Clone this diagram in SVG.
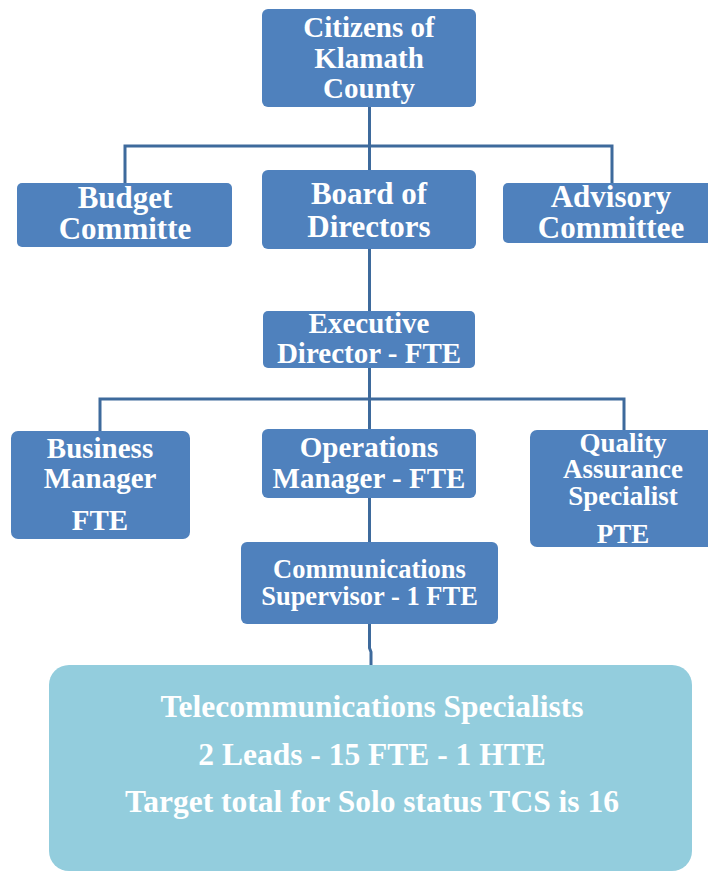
<svg xmlns="http://www.w3.org/2000/svg" width="708" height="871" viewBox="0 0 708 871">
  <style>
    .box { fill: #4f81bd; }
    .team { fill: #93cddd; }
    .lbl { font-family: "Liberation Serif", "Times New Roman", serif; font-weight: bold; fill: #ffffff; text-anchor: middle; }
    .conn { fill: none; stroke: #3e6a9c; stroke-width: 3; }
  </style>
  <rect width="708" height="871" fill="#ffffff"/>

  <g id="connectors">
    <path class="conn" d="M369.5 107 V170"/>
    <path class="conn" d="M125 183 V146 H612 V183"/>
    <path class="conn" d="M369.5 249 V311"/>
    <path class="conn" d="M369.5 368 V429"/>
    <path class="conn" d="M100 431 V399 H624 V430"/>
    <path class="conn" d="M369.5 498 V542"/>
    <path class="conn" d="M369.5 624 V648 L371 652 V665"/>
  </g>

  <g id="citizens">
    <rect class="box" x="262" y="9" width="214" height="98" rx="6"/>
    <text class="lbl" font-size="29" x="369" y="37">Citizens of</text>
    <text class="lbl" font-size="29" x="369" y="68">Klamath</text>
    <text class="lbl" font-size="29" x="369" y="98">County</text>
  </g>

  <g id="budget">
    <rect class="box" x="17" y="183" width="215" height="64" rx="5"/>
    <text class="lbl" font-size="31" x="125" y="208">Budget</text>
    <text class="lbl" font-size="31" x="125" y="239">Committe</text>
  </g>

  <g id="board">
    <rect class="box" x="262" y="170" width="214" height="79" rx="6"/>
    <text class="lbl" font-size="31" x="369" y="204">Board of</text>
    <text class="lbl" font-size="31" x="369" y="237">Directors</text>
  </g>

  <g id="advisory">
    <rect class="box" x="503" y="183" width="210" height="60" rx="5"/>
    <text class="lbl" font-size="31" x="611" y="207">Advisory</text>
    <text class="lbl" font-size="31" x="611" y="238">Committee</text>
  </g>

  <g id="executive">
    <rect class="box" x="263" y="311" width="212" height="57" rx="5"/>
    <text class="lbl" font-size="29" x="369" y="333">Executive</text>
    <text class="lbl" font-size="29" x="369" y="363">Director - FTE</text>
  </g>

  <g id="business">
    <rect class="box" x="11" y="431" width="179" height="108" rx="7"/>
    <text class="lbl" font-size="29" x="100" y="458">Business</text>
    <text class="lbl" font-size="29" x="100" y="488">Manager</text>
    <text class="lbl" font-size="29" x="100" y="530">FTE</text>
  </g>

  <g id="operations">
    <rect class="box" x="262" y="429" width="214" height="69" rx="6"/>
    <text class="lbl" font-size="29" x="369" y="457">Operations</text>
    <text class="lbl" font-size="29" x="369" y="488">Manager - FTE</text>
  </g>

  <g id="quality">
    <rect class="box" x="530" y="430" width="185" height="117" rx="7"/>
    <text class="lbl" font-size="27" x="623" y="452">Quality</text>
    <text class="lbl" font-size="27" x="623" y="478">Assurance</text>
    <text class="lbl" font-size="27" x="623" y="505">Specialist</text>
    <text class="lbl" font-size="27" x="623" y="543">PTE</text>
  </g>

  <g id="communications">
    <rect class="box" x="241" y="542" width="257" height="82" rx="6"/>
    <text class="lbl" font-size="26.5" x="369.5" y="578">Communications</text>
    <text class="lbl" font-size="26.5" x="369.5" y="605">Supervisor - 1 FTE</text>
  </g>

  <g id="telecom">
    <rect class="team" x="49" y="665" width="643" height="206" rx="20"/>
    <text class="lbl" font-size="31.5" x="372" y="717">Telecommunications Specialists</text>
    <text class="lbl" font-size="31.5" x="372" y="765">2 Leads - 15 FTE - 1 HTE</text>
    <text class="lbl" font-size="31.5" x="372" y="812">Target total for Solo status TCS is 16</text>
  </g>
</svg>
